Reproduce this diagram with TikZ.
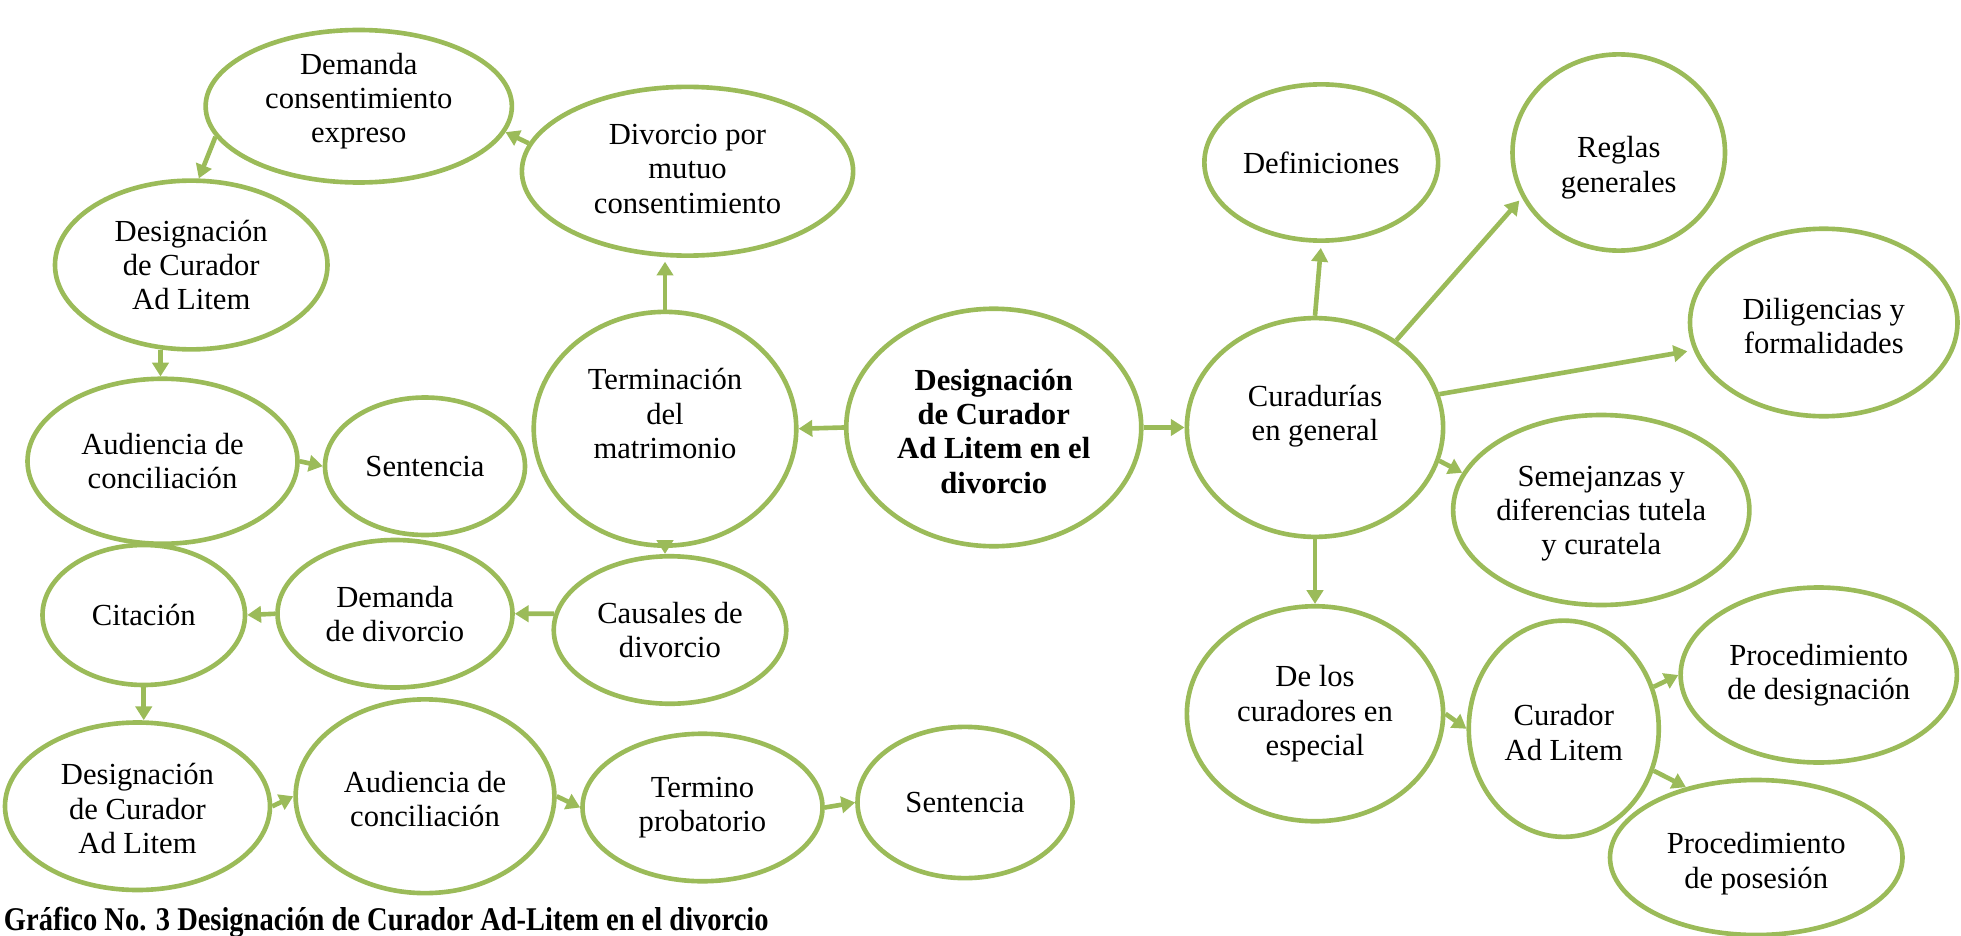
\documentclass[tikz,border=0pt]{standalone}
\usepackage{fontspec}
\setmainfont{Liberation Serif}
\newfontfamily\capfont{Liberation Serif}[FakeStretch=0.86]
\usetikzlibrary{shapes.geometric,arrows.meta}
\definecolor{grn}{RGB}{155,187,89}
\begin{document}
\begin{tikzpicture}[x=1pt,y=-1pt,
  ell/.style={draw=grn, line width=3.7pt, ellipse, inner sep=0pt},
  txt/.style={align=center, font=\fontsize{24.5}{27.5}\selectfont, inner sep=0pt},
  btxt/.style={txt, font=\fontsize{24.5}{27.5}\selectfont\bfseries},
  arr/.style={draw=grn, line width=3.7pt, -{Triangle[length=11pt,width=13pt]}},
  captxt/.style={font=\capfont\fontsize{26.5}{30}\selectfont\bfseries, inner sep=0pt}]
\useasboundingbox (0,0) rectangle (1568.8,748.8);
% left tree
\node[ell,minimum width=245pt,minimum height=122pt] (dce) at (287,85) {};
\node[txt] (dce-t) at ([yshift=4pt]dce) {Demanda\\consentimiento\\expreso};
\node[ell,minimum width=265pt,minimum height=135pt] (dmc) at (550,137) {};
\node[txt] (dmc-t) at ([yshift=2pt]dmc) {Divorcio por\\mutuo\\consentimiento};
\node[ell,minimum width=218pt,minimum height=135pt] (dca1) at (153,212) {};
\node[txt] (dca1-t) at (dca1) {Designación\\de Curador\\Ad Litem};
\node[ell,minimum width=216pt,minimum height=132pt] (aud1) at (130,369) {};
\node[txt] (aud1-t) at (aud1) {Audiencia de\\conciliación};
\node[ell,minimum width=160pt,minimum height=110pt] (sen1) at (340,373) {};
\node[txt] (sen1-t) at (sen1) {Sentencia};
\node[ell,minimum width=210pt,minimum height=187pt] (term) at (532,343) {};
\node[txt] (term-t) at ([yshift=12pt]term) {Terminación\\del\\matrimonio};
\node[ell,minimum width=236pt,minimum height=190pt] (main) at (795,342) {};
\node[btxt] (main-t) at ([yshift=-3pt]main) {Designación\\de Curador\\Ad Litem en el\\divorcio};
\node[ell,minimum width=186pt,minimum height=118pt] (caus) at (536,504) {};
\node[txt] (caus-t) at (caus) {Causales de\\divorcio};
\node[ell,minimum width=188pt,minimum height=118pt] (demd) at (316,491) {};
\node[txt] (demd-t) at (demd) {Demanda\\de divorcio};
\node[ell,minimum width=162pt,minimum height=112pt] (cit) at (115,492) {};
\node[txt] (cit-t) at (cit) {Citación};
\node[ell,minimum width=212pt,minimum height=134pt] (dca2) at (110,645) {};
\node[txt] (dca2-t) at ([yshift=-2pt]dca2) {Designación\\de Curador\\Ad Litem};
\node[ell,minimum width=207pt,minimum height=155pt] (aud2) at (340,637) {};
\node[txt] (aud2-t) at ([yshift=-2pt]aud2) {Audiencia de\\conciliación};
\node[ell,minimum width=192pt,minimum height=118pt] (tp) at (562,646) {};
\node[txt] (tp-t) at (tp) {Termino\\probatorio};
\node[ell,minimum width=172pt,minimum height=121pt] (sen2) at (772,642) {};
\node[txt] (sen2-t) at (sen2) {Sentencia};
% right tree
\node[ell,minimum width=187pt,minimum height=125pt] (def) at (1057,130) {};
\node[txt] (def-t) at (def) {Definiciones};
\node[ell,minimum width=170pt,minimum height=157pt] (reg) at (1295,122) {};
\node[txt] (reg-t) at ([yshift=-12pt]reg) {Reglas\\generales};
\node[ell,minimum width=214pt,minimum height=150pt] (dil) at (1459,258) {};
\node[txt] (dil-t) at ([yshift=-3pt]dil) {Diligencias y\\formalidades};
\node[ell,minimum width=205pt,minimum height=175pt] (cur) at (1052,342) {};
\node[txt] (cur-t) at ([yshift=9pt]cur) {Curadurías\\en general};
\node[ell,minimum width=237pt,minimum height=152pt] (sem) at (1281,408) {};
\node[txt] (sem-t) at ([yshift=-3pt]sem) {Semejanzas y\\diferencias tutela\\y curatela};
\node[ell,minimum width=205pt,minimum height=172pt] (dlc) at (1052,571) {};
\node[txt] (dlc-t) at (dlc) {De los\\curadores en\\especial};
\node[ell,minimum width=152pt,minimum height=173pt] (cal) at (1251,583) {};
\node[txt] (cal-t) at ([yshift=-3pt]cal) {Curador\\Ad Litem};
\node[ell,minimum width=221pt,minimum height=140pt] (pdd) at (1455,540) {};
\node[txt] (pdd-t) at (pdd) {Procedimiento\\de designación};
\node[ell,minimum width=234pt,minimum height=124pt] (pdp) at (1405,686) {};
\node[txt] (pdp-t) at ([yshift=-5pt]pdp) {Procedimiento\\de posesión};
% caption
\node[captxt, anchor=west] (cap) at (3,738) {Gráfico No. 3 Designación de Curador Ad-Litem en el divorcio};
% arrows
\draw[arr] (main.west) -- (term.east);
\draw[arr] (main.east) -- (cur.west);
\draw[arr, shorten >=3pt] (term.north) -- (term.north |- dmc.south);
\draw[arr] (dmc.170) -- (dce.-10);
\draw[arr] (dce.-168) -- (dca1.85);
\draw[arr] (dca1.-110) -- (dca1.-110 |- aud1.north);
\draw[arr] (aud1.east) -- (sen1.west);
\draw[arr] (term.south) -- (term.south |- caus.north);
\draw[arr] (caus.172) -- (demd.east);
\draw[arr] (demd.west) -- (cit.east);
\draw[arr] (cit.south) -- (cit.south |- dca2.north);
\draw[arr] (dca2.east) -- (aud2.west);
\draw[arr] (aud2.east) -- (tp.west);
\draw[arr] (tp.east) -- (sen2.west);
\draw[arr, shorten >=4pt] (cur.north) -- (def.south);
\draw[arr, shorten >=3pt] (cur.47) -- (reg.-155);
\draw[arr, shorten >=5pt] (cur.15) -- (dil.-168);
\draw[arr] (cur.-15) -- (sem.165);
\draw[arr] (cur.south) -- (dlc.north);
\draw[arr] (dlc.east) -- (cal.west);
\draw[arr] (cal.25) -- (pdd.west);
\draw[arr] (cal.-25) -- (pdp.135);
\end{tikzpicture}
\end{document}
